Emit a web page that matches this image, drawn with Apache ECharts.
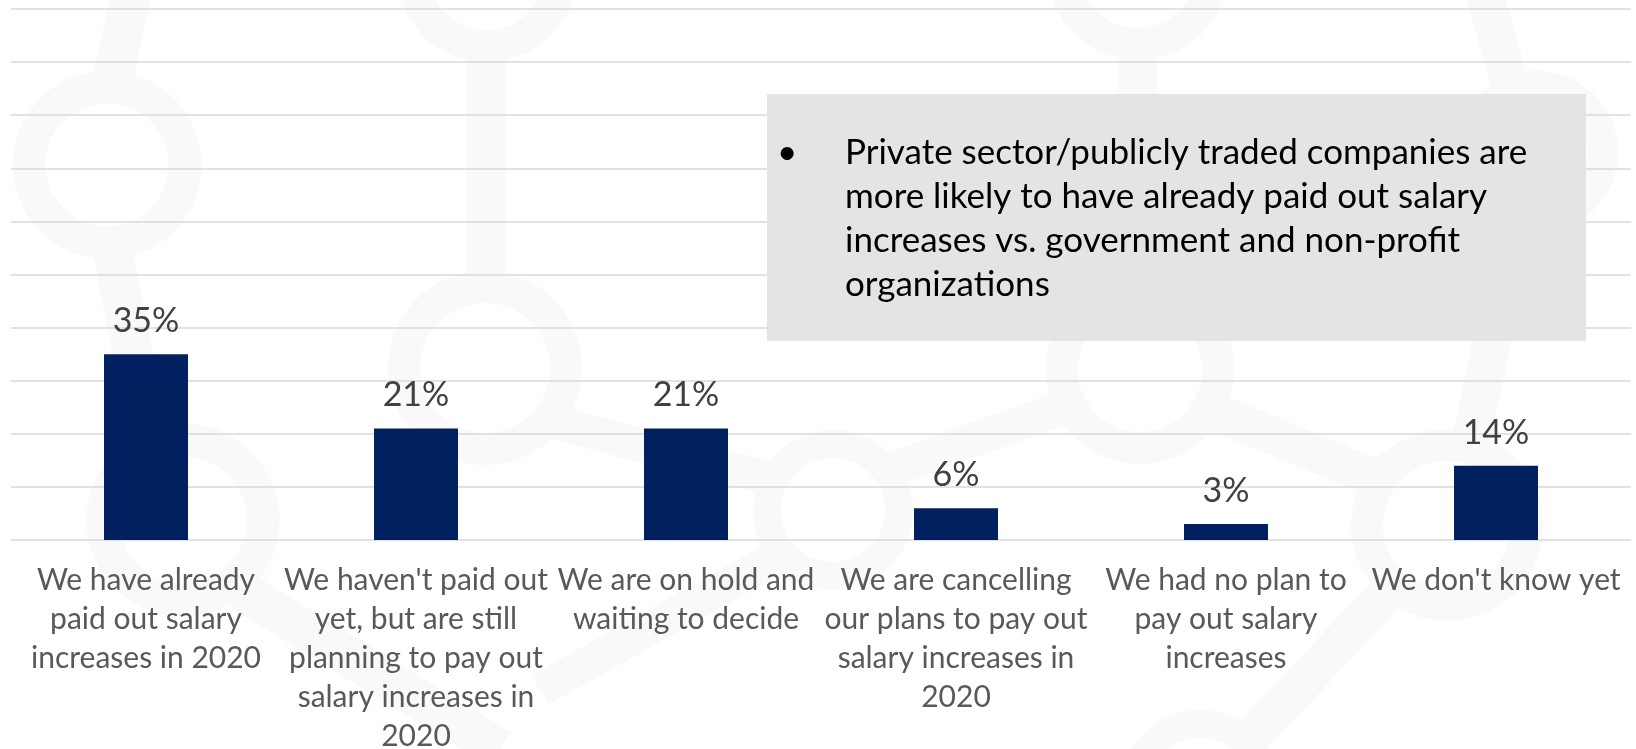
<!DOCTYPE html>
<html>
<head>
<meta charset="utf-8">
<script src="https://cdn.jsdelivr.net/npm/echarts@6/dist/echarts.min.js"></script>
<style>
  html, body { margin: 0; padding: 0; background: #ffffff; }
  #chart { width: 1636px; height: 749px; }
</style>
</head>
<body>
<div id="chart"></div>
<script>
// Survey answers (category labels, with their line breaks)
const categories = [
  "We have already\npaid out salary\nincreases in 2020",
  "We haven't paid out\nyet, but are still\nplanning to pay out\nsalary increases in\n2020",
  "We are on hold and\nwaiting to decide",
  "We are cancelling\nour plans to pay out\nsalary increases in\n2020",
  "We had no plan to\npay out salary\nincreases",
  "We don't know yet"
];

// Share of respondents, in percent
const shares = [35, 21, 21, 6, 3, 14];

// Call-out text
const noteLines = [
  "Private sector/publicly traded companies are",
  "more likely to have already paid out salary",
  "increases vs. government and non-profit",
  "organizations"
];

const FONT = "Lato, 'Open Sans', sans-serif";
const WM = '#f9f9f9';

// Faint ring-and-link decoration behind the plot
function ring(cx, cy, r, w) {
  return { type: 'circle', z: -10, silent: true,
    shape: { cx: cx, cy: cy, r: r },
    style: { fill: null, stroke: WM, lineWidth: w } };
}
function link(x1, y1, x2, y2, w) {
  return { type: 'line', z: -10, silent: true,
    shape: { x1: x1, y1: y1, x2: x2, y2: y2 },
    style: { stroke: WM, lineWidth: w, lineCap: 'butt' } };
}
const decoration = [
  link(111, 87, 131, -5, 40),
  link(111, 243, 150, 440, 40),
  link(240, 590, 500, 749, 40),
  link(486, 46, 486, 287, 40),
  link(545, 420, 775, 480, 34),
  link(780, 555, 540, 690, 34),
  link(890, 470, 1070, 405, 34),
  link(1138, 44, 1138, 292, 38),
  link(1210, 410, 1380, 480, 38),
  link(1510, 84, 1485, -5, 38),
  link(1515, 232, 1470, 445, 38),
  link(1390, 590, 1240, 749, 38),
  ring(107, 165, 78, 33),
  ring(183, 520, 80, 33),
  ring(487, -28, 74, 32),
  ring(485, 368, 81, 32),
  ring(833, 510, 66, 28),
  ring(1138, -30, 74, 32),
  ring(1140, 370, 78, 32),
  ring(1537, 152, 66, 30),
  ring(1447, 525, 80, 32),
  ring(1200, 790, 66, 28)
];

const chart = echarts.init(document.getElementById('chart'), null, { renderer: 'canvas' });

chart.setOption({
  backgroundColor: '#ffffff',
  animation: false,
  grid: { left: 11, right: 5, top: 9, bottom: 209, containLabel: false, outerBoundsMode: 'none' },
  xAxis: {
    type: 'category',
    data: categories,
    axisLine: { show: false },
    axisTick: { show: false },
    axisLabel: {
      interval: 0,
      margin: 21,
      color: '#595959',
      fontFamily: FONT,
      fontSize: 30,
      lineHeight: 39
    }
  },
  yAxis: {
    type: 'value',
    min: 0,
    max: 100,
    interval: 10,
    axisLabel: { show: false },
    axisLine: { show: false },
    axisTick: { show: false },
    splitLine: { lineStyle: { color: '#d9d9d9', width: 1.5 } }
  },
  series: [{
    type: 'bar',
    data: shares,
    barWidth: 84,
    itemStyle: { color: '#002060' },
    label: {
      show: true,
      position: 'top',
      distance: 13,
      formatter: '{c}%',
      color: '#404040',
      fontFamily: FONT,
      fontSize: 34,
      lineHeight: 40
    }
  }],
  graphic: decoration.concat([
    {
      type: 'rect', z: 100,
      shape: { x: 767, y: 94, width: 819, height: 247 },
      style: { fill: '#e4e4e4' }
    },
    {
      type: 'text', z: 101,
      x: 777, y: 131,
      style: { text: '\u2022', font: '35px ' + FONT, fill: '#000000',
               lineHeight: 44, verticalAlign: 'top' }
    },
    {
      type: 'text', z: 101,
      x: 845, y: 131,
      style: { text: noteLines.join('\n'), font: '35px ' + FONT, fill: '#000000',
               lineHeight: 44, verticalAlign: 'top' }
    }
  ])
});
</script>
</body>
</html>
